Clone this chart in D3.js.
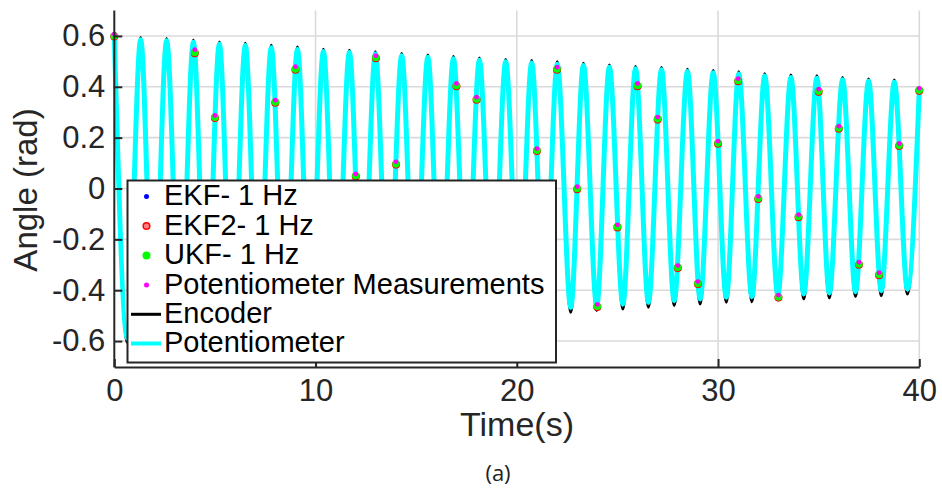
<!DOCTYPE html>
<html>
<head>
<meta charset="utf-8">
<script src="https://cdn.jsdelivr.net/npm/d3@7"></script>
<style>
  html, body { margin: 0; padding: 0; background: #fff; }
  svg { display: block; }
</style>
</head>
<body>
<div id="chart"></div>
<script>
// ---------------- DATA ----------------
// Times (s) of the oscillation extremes
const peakTimes   = [0, 1.31, 2.60, 3.93, 5.22, 6.51, 7.80, 9.10, 10.39, 11.68, 12.97, 14.28, 15.58, 16.85, 18.14, 19.45, 20.74, 22.01, 23.31, 24.60, 25.90, 27.19, 28.48, 29.76, 31.03, 32.32, 33.62, 34.91, 36.19, 37.48, 38.76];
const troughTimes = [0.65, 1.95, 3.27, 4.57, 5.86, 7.15, 8.45, 9.74, 11.03, 12.33, 13.62, 14.93, 16.21, 17.50, 18.80, 20.10, 21.38, 22.68, 23.97, 25.27, 26.54, 27.82, 29.11, 30.41, 31.68, 32.97, 34.26, 35.53, 36.83, 38.11, 39.41];
const endTime = 40;

// Potentiometer (cyan) extremes, rad
const potPeaks   = [0.600, 0.585, 0.581, 0.575, 0.567, 0.562, 0.554, 0.547, 0.539, 0.535, 0.529, 0.522, 0.516, 0.510, 0.504, 0.498, 0.494, 0.489, 0.484, 0.477, 0.471, 0.467, 0.460, 0.455, 0.450, 0.442, 0.437, 0.434, 0.428, 0.422, 0.418];
const potTroughs = [-0.590, -0.575, -0.568, -0.561, -0.553, -0.546, -0.539, -0.532, -0.525, -0.518, -0.511, -0.504, -0.497, -0.490, -0.484, -0.478, -0.472, -0.467, -0.460, -0.454, -0.447, -0.440, -0.434, -0.427, -0.425, -0.417, -0.414, -0.410, -0.405, -0.401, -0.395];
const potEnd = 0.390;

// Encoder (black) extremes, rad
const encPeaks   = [0.600, 0.594, 0.590, 0.584, 0.576, 0.571, 0.563, 0.556, 0.548, 0.544, 0.538, 0.531, 0.525, 0.519, 0.513, 0.507, 0.503, 0.498, 0.493, 0.486, 0.480, 0.476, 0.469, 0.464, 0.459, 0.451, 0.446, 0.443, 0.437, 0.431, 0.427];
const encTroughs = [-0.605, -0.595, -0.588, -0.581, -0.573, -0.566, -0.559, -0.552, -0.545, -0.538, -0.531, -0.524, -0.517, -0.510, -0.504, -0.498, -0.492, -0.487, -0.480, -0.474, -0.467, -0.460, -0.454, -0.447, -0.445, -0.437, -0.434, -0.430, -0.425, -0.421, -0.415];
const encEnd = 0.395;

// 1 Hz samples
const sampleTimes = [0,1,2,3,4,5,6,7,8,9,10,11,12,13,14,15,16,17,18,19,20,21,22,23,24,25,26,27,28,29,30,31,32,33,34,35,36,37,38,39,40];
const ekf  = [0.600,-0.050,-0.570,-0.210,0.535,0.280,-0.440,-0.410,0.340,0.470,-0.170,-0.530,0.050,0.515,0.097,-0.490,-0.230,0.405,0.352,-0.280,-0.440,0.150,0.470,0.000,-0.463,-0.150,0.405,0.274,-0.310,-0.373,0.179,0.425,-0.038,-0.426,-0.110,0.383,0.238,-0.297,-0.338,0.170,0.387];
const ekf2 = [0.598,-0.052,-0.572,-0.212,0.532,0.277,-0.442,-0.412,0.337,0.467,-0.172,-0.532,0.047,0.512,0.094,-0.492,-0.232,0.402,0.349,-0.282,-0.442,0.147,0.467,-0.003,-0.466,-0.153,0.402,0.271,-0.313,-0.376,0.176,0.422,-0.041,-0.429,-0.113,0.380,0.235,-0.300,-0.341,0.167,0.384];
const ukf  = [0.600,-0.050,-0.570,-0.210,0.535,0.280,-0.440,-0.410,0.340,0.470,-0.170,-0.530,0.050,0.515,0.097,-0.490,-0.230,0.405,0.352,-0.280,-0.440,0.150,0.470,0.000,-0.463,-0.150,0.405,0.274,-0.310,-0.373,0.179,0.425,-0.038,-0.426,-0.110,0.383,0.238,-0.297,-0.338,0.170,0.387];
const meas = [0.607,-0.043,-0.563,-0.203,0.546,0.287,-0.433,-0.403,0.347,0.479,-0.163,-0.523,0.057,0.522,0.105,-0.483,-0.223,0.413,0.359,-0.273,-0.433,0.157,0.477,0.007,-0.456,-0.143,0.413,0.281,-0.303,-0.366,0.186,0.432,-0.031,-0.419,-0.103,0.391,0.245,-0.290,-0.331,0.177,0.394];

// Axes
const xTicks = [0, 10, 20, 30, 40];
const xTickLabels = ["0", "10", "20", "30", "40"];
const yTicks = [-0.6, -0.4, -0.2, 0, 0.2, 0.4, 0.6];
const yTickLabels = ["-0.6", "-0.4", "-0.2", "0", "0.2", "0.4", "0.6"];

const legendLabels = ["EKF- 1 Hz", "EKF2- 1 Hz", "UKF- 1 Hz", "Potentiometer Measurements", "Encoder", "Potentiometer"];

// ---------------- DRAWING ----------------
const W = 942, H = 489;
const FONT = "'Liberation Sans', Arial, Helvetica, sans-serif";
const AX = "#262626";

const svg = d3.select("#chart").append("svg")
  .attr("width", W).attr("height", H)
  .attr("viewBox", `0 0 ${W} ${H}`);
svg.append("rect").attr("width", W).attr("height", H).attr("fill", "#fff");

const x = d3.scaleLinear().domain([0, 40]).range([114.3, 919.3]);
const y = d3.scaleLinear().domain([-0.7, 0.7]).range([366.5, 10.5]);

// grid
const grid = svg.append("g").attr("stroke", "#dadada").attr("stroke-width", 1.6);
grid.selectAll("line.gx").data(xTicks.slice(1)).join("line")
  .attr("x1", d => x(d)).attr("x2", d => x(d))
  .attr("y1", y.range()[0]).attr("y2", y.range()[1]);
grid.selectAll("line.gy").data(yTicks).join("line")
  .attr("x1", x.range()[0]).attr("x2", x.range()[1])
  .attr("y1", d => y(d)).attr("y2", d => y(d));

// build line series from extremes
function buildSeries(pk, tr, endV) {
  const pts = [];
  peakTimes.forEach((t, i) => pts.push([t, pk[i]]));
  troughTimes.forEach((t, i) => pts.push([t, tr[i]]));
  pts.push([endTime, endV]);
  pts.sort((a, b) => a[0] - b[0]);
  return pts;
}
const encSeries = buildSeries(encPeaks, encTroughs, encEnd);
const potSeries = buildSeries(potPeaks, potTroughs, potEnd);

const line = d3.line().x(d => x(d[0])).y(d => y(d[1])).curve(d3.curveMonotoneX);

svg.append("path").datum(encSeries).attr("d", line)
  .attr("fill", "none").attr("stroke", "#000").attr("stroke-width", 3).attr("stroke-linejoin", "round");
svg.append("path").datum(potSeries).attr("d", line)
  .attr("fill", "none").attr("stroke", "#00ffff").attr("stroke-width", 5).attr("stroke-linejoin", "round");

// markers
function markers(vals, opts) {
  svg.append("g").selectAll("circle").data(sampleTimes.map((t, i) => [t, vals[i]])).join("circle")
    .attr("cx", d => x(d[0])).attr("cy", d => y(d[1]))
    .attr("r", opts.r).attr("fill", opts.fill)
    .attr("stroke", opts.stroke || "none").attr("stroke-width", opts.sw || 0);
}
markers(ekf,  { r: 2.5, fill: "#0000ff" });
markers(ekf2, { r: 3.3, fill: "#ff8080", stroke: "#ff0000", sw: 1.5 });
markers(ukf,  { r: 3.8, fill: "#00ff00" });
markers(meas, { r: 2.4, fill: "#ff00ff" });

// axes
const xAxis = d3.axisBottom(x).tickValues(xTicks).tickFormat((d, i) => xTickLabels[i])
  .tickSizeInner(-8).tickSizeOuter(0).tickPadding(12);
const yAxis = d3.axisLeft(y).tickValues(yTicks).tickFormat((d, i) => yTickLabels[i])
  .tickSizeInner(-8).tickSizeOuter(0).tickPadding(9);

const gx = svg.append("g").attr("transform", `translate(0,${y.range()[0] + 0.5})`).call(xAxis);
const gy = svg.append("g").attr("transform", `translate(${x.range()[0]},0)`).call(yAxis);
[gx, gy].forEach(g => {
  g.select(".domain").attr("stroke", AX).attr("stroke-width", 2);
  g.selectAll(".tick line").attr("stroke", AX).attr("stroke-width", 2);
  g.selectAll(".tick text").attr("fill", AX).attr("font-family", FONT).attr("font-size", 31);
});
gy.select(".domain").attr("d", `M0,${y.range()[0] + 1}V${y.range()[1]}`);

// axis titles
svg.append("text").attr("x", 517).attr("y", 436).attr("text-anchor", "middle")
  .attr("font-family", FONT).attr("font-size", 34).attr("fill", AX).text("Time(s)");
svg.append("text").attr("transform", "translate(37,190) rotate(-90)").attr("text-anchor", "middle")
  .attr("font-family", FONT).attr("font-size", 33).attr("fill", AX).text("Angle (rad)");
svg.append("text").attr("x", 498).attr("y", 481).attr("text-anchor", "middle")
  .attr("font-family", "'Open Sans', 'DejaVu Sans', sans-serif").attr("font-size", 22).attr("fill", "#222").text("(a)");

// legend
const lg = svg.append("g");
lg.append("rect").attr("x", 127.5).attr("y", 180.5).attr("width", 428.5).attr("height", 182)
  .attr("fill", "#fff").attr("stroke", AX).attr("stroke-width", 2);
const rowY = [196.5, 226, 255.5, 285, 314.3, 343.5];
const legMarkers = [
  { r: 2.5, fill: "#0000ff" },
  { r: 3.3, fill: "#ff8080", stroke: "#ff0000", sw: 1.5 },
  { r: 4, fill: "#00ff00" },
  { r: 2.5, fill: "#ff00ff" }
];
legMarkers.forEach((m, i) => {
  lg.append("circle").attr("cx", 146.5).attr("cy", rowY[i]).attr("r", m.r).attr("fill", m.fill)
    .attr("stroke", m.stroke || "none").attr("stroke-width", m.sw || 0);
});
lg.append("line").attr("x1", 131).attr("x2", 161).attr("y1", rowY[4]).attr("y2", rowY[4])
  .attr("stroke", "#000").attr("stroke-width", 3);
lg.append("line").attr("x1", 131).attr("x2", 161).attr("y1", rowY[5]).attr("y2", rowY[5])
  .attr("stroke", "#00ffff").attr("stroke-width", 4);
lg.selectAll("text.lt").data(legendLabels).join("text")
  .attr("x", 164).attr("y", (d, i) => rowY[i] + 8.5)
  .attr("font-family", FONT).attr("font-size", 29).attr("fill", "#000").text(d => d);
</script>
</body>
</html>
